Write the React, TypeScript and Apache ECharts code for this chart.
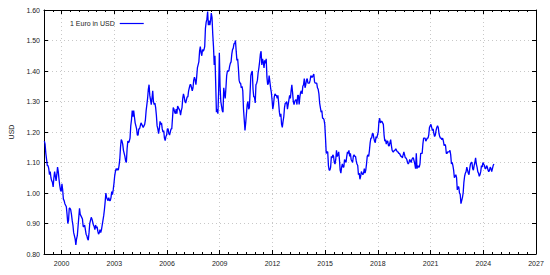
import { useEffect, useRef } from "react";
import * as echarts from "echarts";

// Half-monthly EUR/USD readings (two values per month)
const firstYear = 1999;
const rates1999 = [1.17, 1.16, 1.13, 1.11, 1.09, 1.09, 1.08, 1.06, 1.07, 1.05, 1.04, 1.035, 1.02, 1.05, 1.07, 1.055, 1.04, 1.06, 1.085, 1.07, 1.045, 1.025, 1.01, 1.005];
const rates2000 = [1.03, 1.01, 0.98, 0.975, 0.965, 0.96, 0.955, 0.93, 0.9, 0.91, 0.95, 0.95, 0.945, 0.93, 0.91, 0.895, 0.87, 0.86, 0.85, 0.83, 0.85, 0.86, 0.89, 0.92];
const rates2001 = [0.95, 0.93, 0.925, 0.92, 0.915, 0.89, 0.89, 0.895, 0.88, 0.865, 0.86, 0.85, 0.845, 0.87, 0.9, 0.91, 0.92, 0.915, 0.905, 0.895, 0.89, 0.88, 0.895, 0.885];
const rates2002 = [0.89, 0.875, 0.865, 0.87, 0.88, 0.87, 0.88, 0.895, 0.91, 0.925, 0.945, 0.97, 1.0, 0.985, 0.98, 0.975, 0.985, 0.975, 0.975, 0.985, 1.005, 0.995, 1.01, 1.03];
const rates2003 = [1.055, 1.07, 1.08, 1.075, 1.08, 1.075, 1.09, 1.11, 1.15, 1.175, 1.17, 1.16, 1.14, 1.13, 1.12, 1.105, 1.1, 1.145, 1.17, 1.165, 1.17, 1.18, 1.22, 1.24];
const rates2004 = [1.27, 1.25, 1.27, 1.25, 1.23, 1.22, 1.21, 1.19, 1.19, 1.21, 1.21, 1.22, 1.23, 1.225, 1.22, 1.215, 1.22, 1.225, 1.24, 1.27, 1.29, 1.31, 1.34, 1.355];
const rates2005 = [1.32, 1.305, 1.29, 1.31, 1.335, 1.3, 1.29, 1.295, 1.28, 1.255, 1.22, 1.21, 1.195, 1.21, 1.235, 1.225, 1.23, 1.21, 1.2, 1.205, 1.18, 1.172, 1.185, 1.19];
const rates2006 = [1.21, 1.21, 1.195, 1.19, 1.2, 1.21, 1.21, 1.245, 1.28, 1.275, 1.265, 1.26, 1.275, 1.26, 1.285, 1.28, 1.275, 1.27, 1.255, 1.27, 1.28, 1.31, 1.325, 1.315];
const rates2007 = [1.3, 1.295, 1.305, 1.315, 1.315, 1.335, 1.345, 1.355, 1.355, 1.345, 1.335, 1.345, 1.37, 1.38, 1.37, 1.355, 1.38, 1.41, 1.42, 1.43, 1.465, 1.48, 1.46, 1.45];
const rates2008 = [1.47, 1.465, 1.47, 1.48, 1.54, 1.56, 1.57, 1.595, 1.55, 1.565, 1.55, 1.565, 1.59, 1.575, 1.52, 1.48, 1.42, 1.45, 1.36, 1.265, 1.275, 1.26, 1.33, 1.46];
const rates2009 = [1.35, 1.3, 1.285, 1.27, 1.265, 1.345, 1.325, 1.31, 1.345, 1.385, 1.4, 1.4, 1.4, 1.415, 1.425, 1.43, 1.455, 1.47, 1.475, 1.49, 1.49, 1.5, 1.465, 1.435];
const rates2010 = [1.44, 1.41, 1.37, 1.36, 1.36, 1.345, 1.35, 1.335, 1.275, 1.24, 1.205, 1.23, 1.26, 1.29, 1.3, 1.275, 1.28, 1.33, 1.385, 1.395, 1.4, 1.34, 1.315, 1.315];
const rates2011 = [1.295, 1.355, 1.36, 1.37, 1.395, 1.41, 1.43, 1.455, 1.465, 1.42, 1.44, 1.43, 1.41, 1.435, 1.425, 1.44, 1.38, 1.355, 1.36, 1.385, 1.365, 1.345, 1.33, 1.305];
const rates2012 = [1.275, 1.29, 1.315, 1.325, 1.32, 1.32, 1.31, 1.32, 1.295, 1.265, 1.25, 1.26, 1.225, 1.215, 1.235, 1.25, 1.28, 1.295, 1.295, 1.3, 1.275, 1.29, 1.305, 1.32];
const rates2013 = [1.31, 1.335, 1.355, 1.33, 1.3, 1.29, 1.3, 1.305, 1.305, 1.29, 1.32, 1.32, 1.29, 1.315, 1.33, 1.335, 1.325, 1.35, 1.355, 1.375, 1.345, 1.355, 1.37, 1.375];
const rates2014 = [1.36, 1.36, 1.36, 1.37, 1.385, 1.38, 1.38, 1.385, 1.39, 1.365, 1.36, 1.36, 1.36, 1.345, 1.34, 1.325, 1.295, 1.28, 1.265, 1.27, 1.245, 1.245, 1.24, 1.225];
const rates2015 = [1.18, 1.13, 1.135, 1.135, 1.09, 1.075, 1.075, 1.085, 1.12, 1.115, 1.125, 1.12, 1.1, 1.095, 1.11, 1.14, 1.12, 1.125, 1.135, 1.11, 1.075, 1.065, 1.085, 1.095];
const rates2016 = [1.085, 1.085, 1.11, 1.105, 1.1, 1.12, 1.135, 1.13, 1.14, 1.12, 1.13, 1.11, 1.105, 1.1, 1.12, 1.125, 1.12, 1.12, 1.105, 1.095, 1.09, 1.06, 1.065, 1.045];
const rates2017 = [1.055, 1.07, 1.065, 1.06, 1.065, 1.08, 1.065, 1.075, 1.095, 1.12, 1.125, 1.12, 1.14, 1.165, 1.18, 1.18, 1.195, 1.195, 1.18, 1.17, 1.165, 1.185, 1.18, 1.19];
const rates2018 = [1.2, 1.235, 1.245, 1.23, 1.235, 1.235, 1.23, 1.225, 1.19, 1.17, 1.175, 1.16, 1.17, 1.17, 1.155, 1.155, 1.165, 1.175, 1.155, 1.14, 1.135, 1.135, 1.14, 1.14];
const rates2019 = [1.145, 1.14, 1.135, 1.135, 1.13, 1.13, 1.125, 1.12, 1.12, 1.115, 1.125, 1.135, 1.125, 1.115, 1.115, 1.11, 1.1, 1.095, 1.1, 1.11, 1.105, 1.1, 1.11, 1.115];
const rates2020 = [1.115, 1.105, 1.095, 1.08, 1.13, 1.08, 1.09, 1.085, 1.085, 1.095, 1.13, 1.13, 1.13, 1.16, 1.18, 1.18, 1.18, 1.17, 1.175, 1.18, 1.18, 1.19, 1.215, 1.22];
const rates2021 = [1.225, 1.215, 1.205, 1.21, 1.195, 1.185, 1.19, 1.205, 1.215, 1.22, 1.215, 1.195, 1.185, 1.18, 1.18, 1.175, 1.18, 1.17, 1.155, 1.16, 1.155, 1.13, 1.13, 1.135];
const rates2022 = [1.135, 1.135, 1.14, 1.125, 1.095, 1.1, 1.09, 1.075, 1.05, 1.055, 1.06, 1.05, 1.01, 1.02, 1.02, 1.0, 0.995, 0.965, 0.975, 0.985, 1.0, 1.035, 1.055, 1.065];
const rates2023 = [1.07, 1.085, 1.075, 1.065, 1.06, 1.08, 1.095, 1.1, 1.1, 1.08, 1.075, 1.09, 1.1, 1.115, 1.095, 1.085, 1.07, 1.065, 1.055, 1.06, 1.07, 1.09, 1.085, 1.1];
const rates2024 = [1.095, 1.09, 1.08, 1.08, 1.09, 1.085, 1.075, 1.07, 1.075, 1.085, 1.08, 1.07, 1.08, 1.09, 1.095];

const yearlyRates = [
  rates1999, rates2000, rates2001, rates2002, rates2003, rates2004, rates2005,
  rates2006, rates2007, rates2008, rates2009, rates2010, rates2011, rates2012,
  rates2013, rates2014, rates2015, rates2016, rates2017, rates2018, rates2019,
  rates2020, rates2021, rates2022, rates2023, rates2024,
];

const xTickYears = [2000, 2003, 2006, 2009, 2012, 2015, 2018, 2021, 2024, 2027];
const xMin = 1999;
const xMax = 2027;
const yMin = 0.8;
const yMax = 1.6;
const yStep = 0.1;
const seriesName = "1 Euro in USD";
const yAxisTitle = "USD";

const FONT = "'Liberation Sans', Arial, sans-serif";
const TEXT_COLOR = "#222";
const GRID_COLOR = "#c8c8c8";

export default function App() {
  const ref = useRef<HTMLDivElement>(null);

  useEffect(() => {
    if (!ref.current) return;
    const chart = echarts.init(ref.current, undefined, { renderer: "svg" });

    const points: [number, number][] = [];
    yearlyRates.forEach((arr, yi) => {
      arr.forEach((v, k) => {
        points.push([firstYear + yi + (k * 0.5 + 0.25) / 12, v]);
      });
    });

    const axisLine = { show: true, lineStyle: { color: "#000", width: 1 } };

    chart.setOption({
      animation: false,
      backgroundColor: "#fff",
      grid: { left: 41, right: 14, top: 10, bottom: 21, containLabel: false },
      legend: {
        data: [seriesName],
        left: 65,
        top: 15,
        align: "right",
        icon: "rect",
        itemWidth: 24,
        itemHeight: 1.2,
        textStyle: { fontSize: 7, color: TEXT_COLOR, fontFamily: FONT },
      },
      xAxis: [
        {
          type: "value",
          position: "bottom",
          min: xMin,
          max: xMax,
          axisLine,
          axisTick: {
            show: true,
            inside: true,
            length: 4,
            customValues: xTickYears,
            lineStyle: { color: "#000" },
          },
          axisLabel: {
            show: true,
            customValues: xTickYears,
            fontSize: 7,
            color: TEXT_COLOR,
            fontFamily: FONT,
            margin: 6,
            formatter: (v: number) => String(v),
          },
          splitLine: {
            show: true,
            lineStyle: { color: GRID_COLOR, type: [1, 3], width: 1 },
          },
        },
        {
          type: "value",
          position: "bottom",
          min: xMin,
          max: xMax,
          interval: 0.5,
          axisLine: { show: false },
          axisTick: { show: true, inside: true, length: 2, lineStyle: { color: "#000" } },
          axisLabel: { show: false },
          splitLine: { show: false },
        },
        {
          type: "value",
          position: "top",
          min: xMin,
          max: xMax,
          axisLine,
          axisTick: {
            show: true,
            inside: true,
            length: 4,
            customValues: xTickYears,
            lineStyle: { color: "#000" },
          },
          axisLabel: { show: false },
          splitLine: { show: false },
        },
        {
          type: "value",
          position: "top",
          min: xMin,
          max: xMax,
          interval: 0.5,
          axisLine: { show: false },
          axisTick: { show: true, inside: true, length: 2, lineStyle: { color: "#000" } },
          axisLabel: { show: false },
          splitLine: { show: false },
        },
      ],
      yAxis: [
        {
          type: "value",
          position: "left",
          min: yMin,
          max: yMax,
          interval: yStep,
          axisLine,
          axisTick: { show: true, inside: true, length: 4, lineStyle: { color: "#000" } },
          axisLabel: {
            fontSize: 7,
            color: TEXT_COLOR,
            fontFamily: FONT,
            margin: 4,
            formatter: (v: number) => v.toFixed(2),
          },
          splitLine: {
            show: true,
            lineStyle: { color: GRID_COLOR, type: [1, 3], width: 1 },
          },
          name: yAxisTitle,
          nameLocation: "middle",
          nameGap: 29,
          nameRotate: 90,
          nameTextStyle: { fontSize: 7, color: TEXT_COLOR, fontFamily: FONT },
        },
        {
          type: "value",
          position: "right",
          min: yMin,
          max: yMax,
          interval: yStep,
          axisLine,
          axisTick: { show: true, inside: true, length: 4, lineStyle: { color: "#000" } },
          axisLabel: { show: false },
          splitLine: { show: false },
        },
      ],
      series: [
        {
          name: seriesName,
          type: "line",
          xAxisIndex: 0,
          yAxisIndex: 0,
          data: points,
          symbol: "none",
          showSymbol: false,
          lineStyle: { color: "#0000ff", width: 1.3 },
          itemStyle: { color: "#0000ff" },
          clip: true,
        },
      ],
    });

    return () => chart.dispose();
  }, []);

  return (
    <div
      ref={ref}
      style={{ position: "fixed", left: 0, top: 0, width: 550, height: 275, background: "#fff" }}
    />
  );
}
